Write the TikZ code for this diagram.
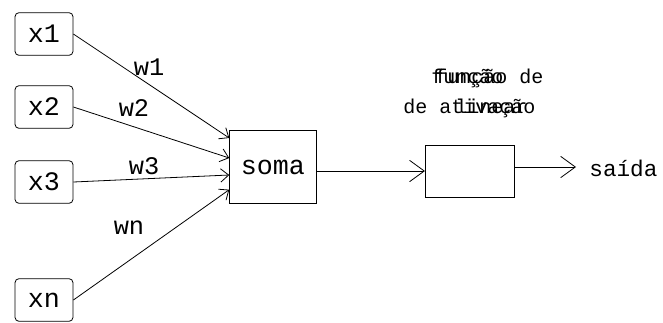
\documentclass[tikz,border=0pt]{standalone}
\usepackage{fontspec}
\setmonofont{Liberation Mono}
\usetikzlibrary{arrows.meta, positioning, calc}

\tikzset{
  entrada/.style={draw, rounded corners=3pt, minimum width=43.5pt, minimum height=32pt, inner sep=0pt, font=\ttfamily\fontsize{20}{22}\selectfont},
  caixa/.style={draw, inner sep=0pt},
  peso/.style={font=\ttfamily\fontsize{19}{21}\selectfont, inner sep=0.75pt},
  seta/.style={-{Straight Barb[length=6pt, width=10pt]}, line width=0.6pt},
  setagrande/.style={-{Straight Barb[length=11pt, width=16pt]}, line width=0.6pt}
}

\begin{document}
\begin{tikzpicture}[x=0.75pt,y=0.75pt,yscale=-1,xscale=1, line width=0.6pt]
	\useasboundingbox (0,0) rectangle (663,322);

	% Entradas
	\node [entrada] (x1) at (44,34) {x1};
	\node [entrada] (x2) at (44,107) {x2};
	\node [entrada] (x3) at (44,182) {x3};
	\node [entrada] (xn) at (44,300) {xn};

	% Somador
	\node [caixa, minimum width=65pt, minimum height=55pt, font=\ttfamily\fontsize{20}{22}\selectfont] (soma) at (273,167) {soma};

	% Bloco da funcao de ativacao
	\node [caixa, minimum width=67pt, minimum height=39pt] (ativ) at (470,171) {};

	% Pesos
	\draw [seta] (x1.east) -- ([yshift=-21.75pt]soma.west);
	\draw [seta] (x2.east) -- ([yshift=-6.75pt]soma.west);
	\draw [seta] (x3.east) -- ([yshift=6pt]soma.west);
	\draw [seta] (xn.east) -- ([yshift=17pt]soma.west);

	\node [peso] (w1) at (149,67) {w1};
	\node [peso] (w2) at (134,108) {w2};
	\node [peso] (w3) at (144,166) {w3};
	\node [peso] (wn) at (129,228) {wn};

	% Saida
	\draw [setagrande] (soma.east |- ativ.west) -- (ativ.west);
	\coordinate (fim) at (576,167);
	\draw [setagrande] (ativ.east |- fim) -- (fim);
	\node [font=\ttfamily\fontsize{17}{19}\selectfont, anchor=west, inner sep=0.75pt] (saida) at (588,168) {saída};

	% Text Node (rotulos sobrepostos)
	\node [anchor=base west, inner sep=0pt, font=\ttfamily\fontsize{15}{17}\selectfont] (rot1) at (435,83) {função de};
	\node [anchor=base west, inner sep=0pt, font=\ttfamily\fontsize{15}{17}\selectfont] (rot2) at (431,83) {função};
	\node [anchor=base west, inner sep=0pt, font=\ttfamily\fontsize{15}{17}\selectfont] (rot3) at (403,113) {de ativação};
	\node [anchor=base west, inner sep=0pt, font=\ttfamily\fontsize{15}{17}\selectfont] (rot4) at (455,113) {linear};
\end{tikzpicture}
\end{document}
